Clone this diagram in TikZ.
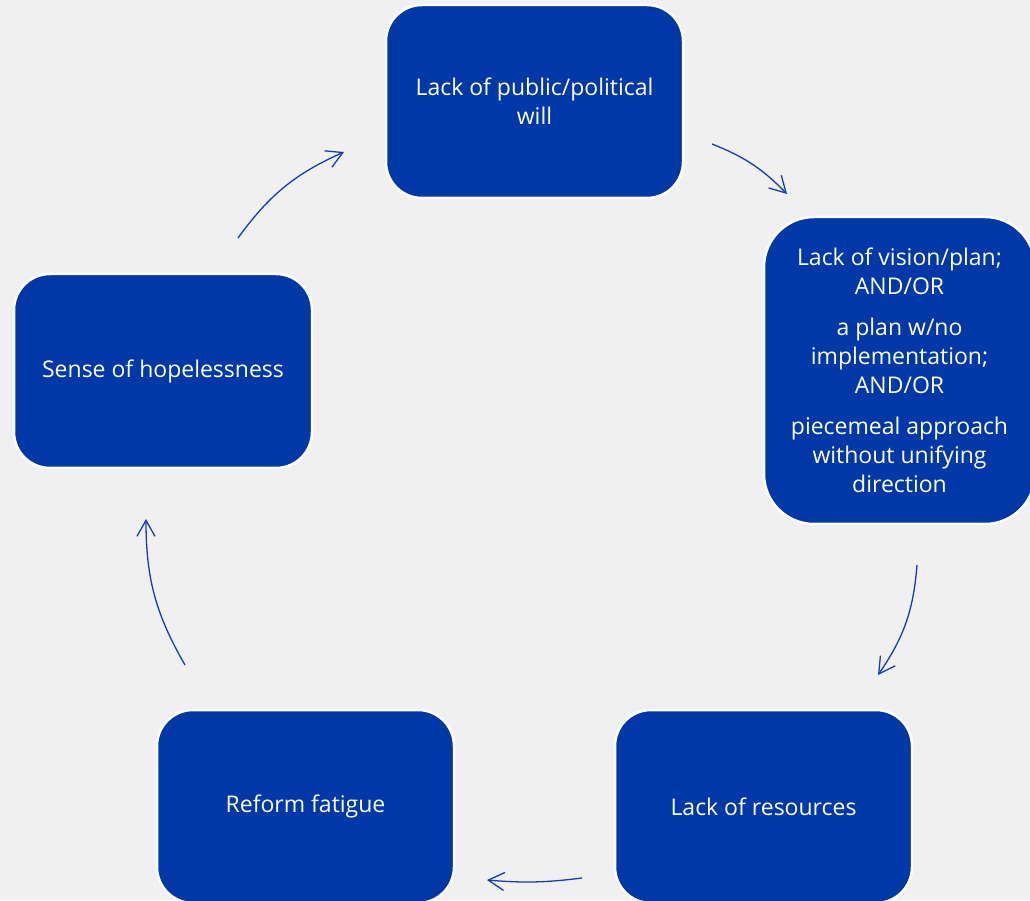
\documentclass[tikz,border=0pt]{standalone}
\usepackage{fontspec}
\setmainfont{Open Sans}
\usetikzlibrary{arrows.meta}
\definecolor{boxblue}{RGB}{0,56,168}
\definecolor{arrowblue}{RGB}{20,60,180}
\definecolor{bg}{RGB}{240,240,240}
\begin{document}
\begin{tikzpicture}[x=1pt,y=1pt,
  box/.style={draw=white, line width=2.5pt, fill=boxblue, rounded corners=36pt,
    text=white, align=center, inner sep=0pt,
    font=\fontsize{23}{29}\selectfont},
  cyc/.style={draw=arrowblue, line width=1.3pt,
    -{Straight Barb[length=16pt,width=18pt,line width=1.3pt]}}]
\useasboundingbox (0,0) rectangle (1030,900);
\fill[bg] (0,0) rectangle (1030,900);
\clip (0,0) rectangle (1030,900);
\node[box, minimum width=297pt, minimum height=193pt] (will) at (534.5,798.5)
  {Lack of public/political\\will};
\node[box, minimum width=271pt, minimum height=307pt, rounded corners=50pt] (vision) at (899.5,529.5)
  {Lack of vision/plan;\\AND/OR\\[12pt]a plan w/no\\implementation;\\AND/OR\\[12pt]piecemeal approach\\without unifying\\direction};
\node[box, minimum width=298pt, minimum height=194pt] (hope) at (163,529)
  {Sense of hopelessness};
\node[box, minimum width=297pt, minimum height=193pt] (fatigue) at (305.5,93.5)
  {Reform fatigue};
\node[box, minimum width=297pt, minimum height=193pt] (res) at (763.5,93.5)
  {Lack of resources};
\coordinate (a1s) at (712,756); \coordinate (a1e) at (787,706);
\coordinate (a2s) at (917,335); \coordinate (a2e) at (878,225);
\coordinate (a3s) at (582,22);  \coordinate (a3e) at (487,20);
\coordinate (a4s) at (185,235); \coordinate (a4e) at (146,381);
\coordinate (a5s) at (238,662); \coordinate (a5e) at (344,748);
\draw[cyc] (a1s) to[bend left=12] (a1e);
\draw[cyc] (a2s) to[bend left=15] (a2e);
\draw[cyc] (a3s) to[bend left=6] (a3e);
\draw[cyc] (a4s) to[bend left=15] (a4e);
\draw[cyc] (a5s) to[bend left=15] (a5e);
\end{tikzpicture}
\end{document}
